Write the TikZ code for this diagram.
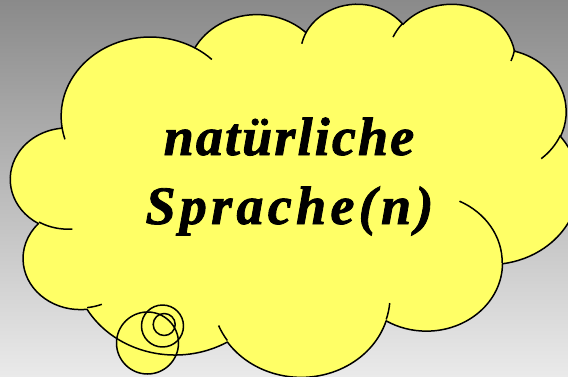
\documentclass[tikz,border=0pt]{standalone}
\usepackage{fontspec}
\newfontfamily\calfont{Liberation Serif}[FakeBold=1.6]
\definecolor{bgtop}{RGB}{138,138,138}
\definecolor{bgbot}{RGB}{234,234,234}
\definecolor{cloudyellow}{RGB}{255,255,102}
\makeatletter
% convert an OOXML visual arc (wR,hR,stAng,swAng in degrees) to parametric start/delta
\newcommand\oocv[5]{%
  \pgfmathsetmacro\oo@a{atan2(sin(#4)*#2, cos(#4)*#3)}%
  \pgfmathsetmacro\oo@a{\oo@a + 360*round((#4-\oo@a)/360)}%
  \pgfmathsetmacro\oo@b{atan2(sin(#4+#5)*#2, cos(#4+#5)*#3)}%
  \pgfmathsetmacro\oo@b{\oo@b + 360*round((#4+#5-\oo@b)/360)}%
  \pgfmathsetmacro\oo@d{\oo@b-\oo@a}%
  \expandafter\xdef\csname oo#1s\endcsname{\oo@a}%
  \expandafter\xdef\csname oo#1d\endcsname{\oo@d}%
}
\makeatother
\tikzset{
  outline/.style={draw=black, line width=1.5pt, line join=round},
  yellowfill/.style={fill=cloudyellow},
  labeltext/.style={font=\calfont\bfseries\itshape\fontsize{54}{60}\selectfont, inner sep=0pt, anchor=base},
}
\begin{document}
\begin{tikzpicture}[x=1pt,y=1pt]
\useasboundingbox (0,0) rectangle (568,376);
\clip (0,0) rectangle (568,376);
\shade[top color=bgtop, bottom color=bgbot] (0,0) rectangle (568,376);
% outline arcs
\oocv{A}{67.53}{91.90}{-190.48748}{123.78053}
\oocv{B}{53.33}{72.67}{-144.10238}{89.94523}
\oocv{C}{43.65}{59.45}{-145.80792}{99.72302}
\oocv{D}{48.57}{65.95}{-130.98607}{117.24173}
\oocv{E}{53.33}{72.73}{-78.70888}{109.02692}
\oocv{F}{67.75}{92.20}{-46.26725}{130.269}
\oocv{G}{57.85}{78.67}{0.62502}{114.03333}
\oocv{H}{67.52}{92.15}{22.4516}{115.17255}
\oocv{I}{77.20}{105.43}{66.24263}{75.71102}
\oocv{J}{43.60}{59.18}{-274.94208}{146.73557}
\oocv{K}{43.45}{59.45}{-246.8285}{152.51885}
% inner fold arcs
\oocv{a}{43.45}{59.45}{86.742}{26.4295}
\oocv{b}{43.60}{59.18}{73.61047}{11.44747}
\oocv{c}{67.52}{92.15}{137.62415}{14.0811}
\oocv{d}{67.52}{92.15}{6.45327}{15.99835}
\oocv{e}{57.85}{78.67}{-70.29235}{70.91737}
\oocv{f}{53.33}{72.73}{30.31803}{27.7515}
\oocv{g}{48.57}{65.95}{13.74433}{14.8589}
\oocv{h}{48.57}{65.95}{-149.18145}{18.19537}
\oocv{i}{43.65}{59.45}{-163.49427}{17.68635}
\oocv{j}{67.53}{91.90}{-66.70695}{12.31935}
\oocv{k}{67.53}{91.90}{157.65435}{11.85817}
% thought bubbles (fill)
\fill[yellowfill] (147.5,33) circle[radius=31];
\fill[yellowfill] (162.5,50) circle[radius=21];
\fill[yellowfill] (164.2,51.5) circle[radius=11];
\begin{scope}[x=1.3148pt, y=-0.8634pt, shift={(10.7pt,373pt)}]
\filldraw[yellowfill, outline] (39.00,143.70)
  arc[start angle=\ooAs, delta angle=\ooAd, x radius=67.53, y radius=91.90]
  arc[start angle=\ooBs, delta angle=\ooBd, x radius=53.33, y radius=72.67]
  arc[start angle=\ooCs, delta angle=\ooCd, x radius=43.65, y radius=59.45]
  arc[start angle=\ooDs, delta angle=\ooDd, x radius=48.57, y radius=65.95]
  arc[start angle=\ooEs, delta angle=\ooEd, x radius=53.33, y radius=72.73]
  arc[start angle=\ooFs, delta angle=\ooFd, x radius=67.75, y radius=92.20]
  arc[start angle=\ooGs, delta angle=\ooGd, x radius=57.85, y radius=78.67]
  arc[start angle=\ooHs, delta angle=\ooHd, x radius=67.52, y radius=92.15]
  arc[start angle=\ooIs, delta angle=\ooId, x radius=77.20, y radius=105.43]
  arc[start angle=\ooJs, delta angle=\ooJd, x radius=43.60, y radius=59.18]
  arc[start angle=\ooKs, delta angle=\ooKd, x radius=43.45, y radius=59.45]
  -- cycle;
\end{scope}
% thought bubbles (stroke)
\draw[outline] (147.5,33) circle[radius=31];
\draw[outline] (162.5,50) circle[radius=21];
\draw[outline] (164.2,51.5) circle[radius=11];
\begin{scope}[x=1.3148pt, y=-0.8634pt, shift={(10.7pt,373pt)}]
\draw[outline]
  (46.93,261.77) arc[start angle=\ooas, delta angle=\ooad, x radius=43.45, y radius=59.45]
  (69.28,348.99) arc[start angle=\oobs, delta angle=\oobd, x radius=43.60, y radius=59.18]
  (164.78,390.90) arc[start angle=\oocs, delta angle=\oocd, x radius=67.52, y radius=92.15]
  (288.27,347.51) arc[start angle=\oods, delta angle=\oodd, x radius=67.52, y radius=92.15]
  (341.29,229.54) arc[start angle=\ooes, delta angle=\ooed, x radius=57.85, y radius=78.67]
  (417.98,153.54) arc[start angle=\oofs, delta angle=\oofd, x radius=53.33, y radius=72.73]
  (383.24,54.26) arc[start angle=\oogs, delta angle=\oogd, x radius=48.57, y radius=65.95]
  (290.78,39.52) arc[start angle=\oohs, delta angle=\oohd, x radius=48.57, y radius=65.95]
  (221.41,47.20) arc[start angle=\oois, delta angle=\ooid, x radius=43.65, y radius=59.45]
  (140.00,51.92) arc[start angle=\oojs, delta angle=\oojd, x radius=67.53, y radius=91.90]
  (41.27,157.89) arc[start angle=\ooks, delta angle=\ookd, x radius=67.53, y radius=91.90];
\end{scope}
% text
\node[labeltext] (t1) at (289,221) {\addfontfeature{LetterSpace=4}natürliche};
\node[labeltext] (t2) at (289.5,152) {\addfontfeature{LetterSpace=8}Sprache(n)};
\end{tikzpicture}
\end{document}
